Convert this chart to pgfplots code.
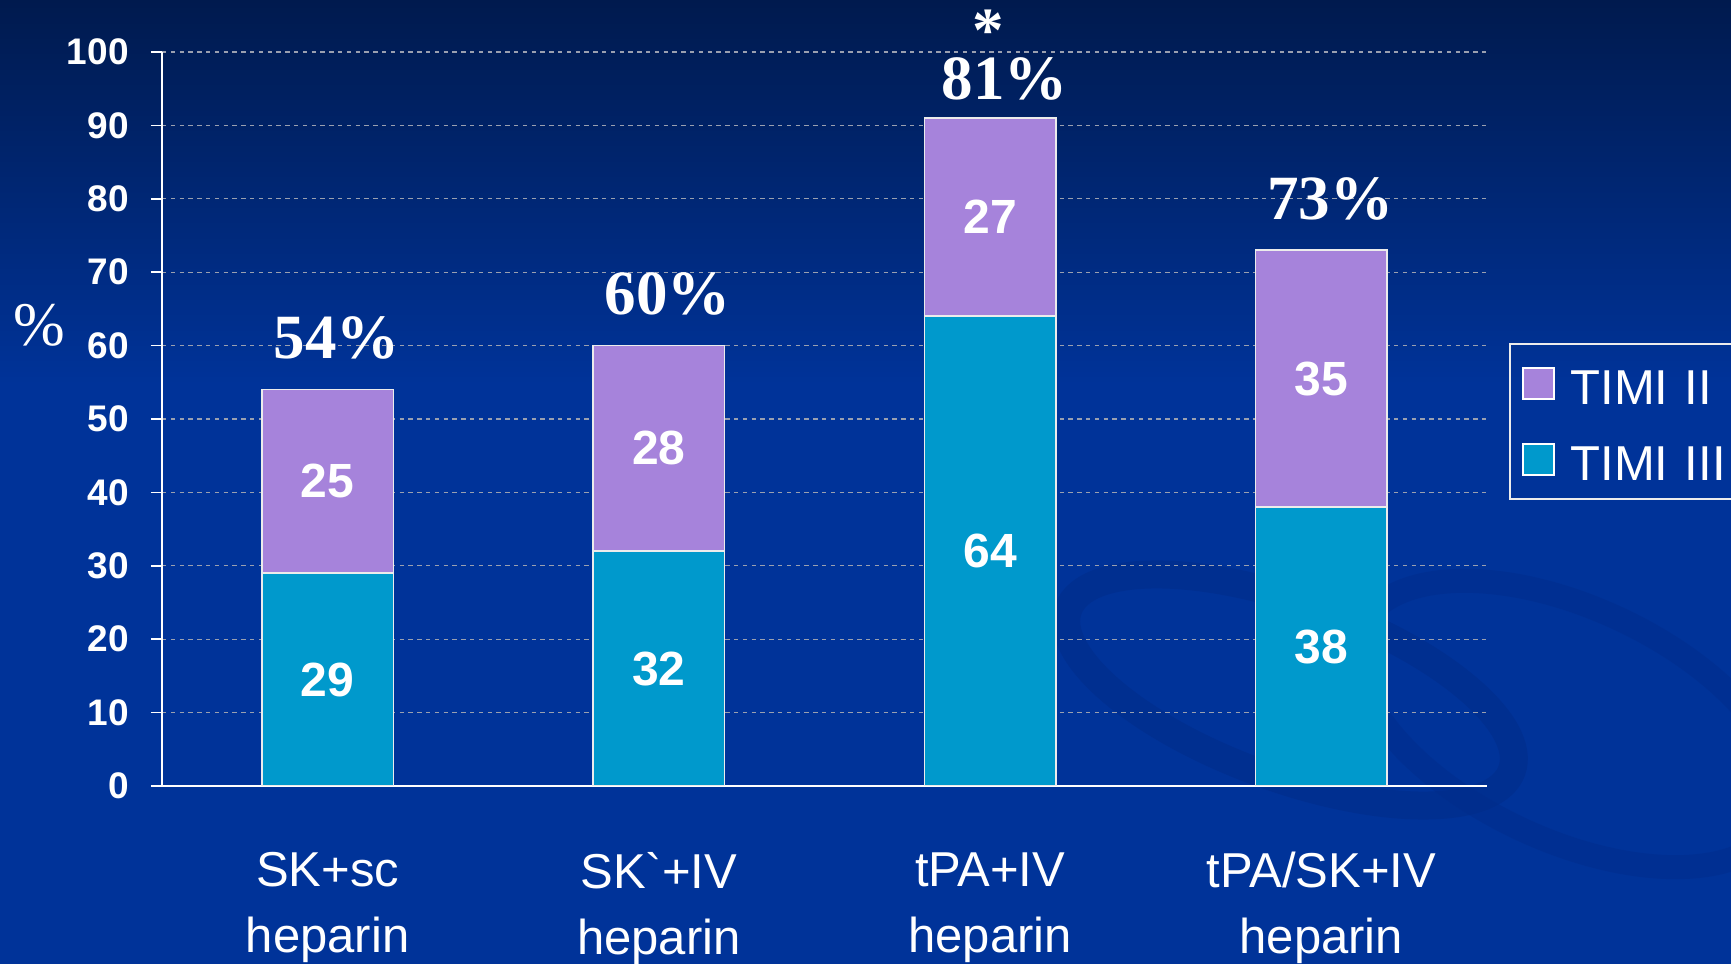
\documentclass[border=0pt]{standalone}
\usepackage{fontspec}
\setmainfont{Liberation Serif}
\newfontfamily\arial{Liberation Sans}
\usepackage{pgfplots}
\pgfplotsset{compat=1.18}
\definecolor{bgtop}{HTML}{001A4E}
\definecolor{bgbot}{HTML}{003399}
\definecolor{swirl}{HTML}{002C8A}
\definecolor{timithree}{HTML}{0099CC}
\definecolor{timitwo}{HTML}{A683DB}
\definecolor{gridgray}{HTML}{9AA0B0}
% label over the tPA bar, with the asterisk above it
\newcommand\starlab{\makebox[0pt][l]{\hspace{20.8pt}\raisebox{18pt}{*}}\hspace{5.5pt}\raisebox{-6pt}{81\%}}
\pgfplotsset{
  samebox/.style={at={(81pt,89pt)},anchor=south west,
    scale only axis,width=662.5pt,height=367pt,
    xmin=-0.5,xmax=3.5,ymin=0,ymax=100},
  seglabel/.style={point meta=explicit,nodes near coords,
    every node near coord/.style={font=\arial\bfseries\fontsize{24}{24}\selectfont,
      text=white,anchor=center}},
}

\begin{document}
\begin{tikzpicture}
\path[use as bounding box,clip] (0,0) rectangle (865.5pt,482pt);
\fill[bgbot] (0,0) rectangle (865.5pt,482pt);
\shade[top color=bgtop,bottom color=bgbot] (0,290pt) rectangle (865.5pt,482pt);
\draw[swirl,line width=14pt,opacity=.55,rotate around={-20:(645pt,137pt)}] (645pt,137pt) ellipse (118pt and 44pt);
\draw[swirl,line width=12pt,opacity=.45,rotate around={-25:(785pt,120pt)}] (785pt,120pt) ellipse (115pt and 58pt);

\begin{axis}[
  samebox,
  ybar stacked,bar width=0.397,
  axis x line*=bottom,axis y line*=left,
  axis line style={white,line width=1.2pt},
  tick align=outside,
  xtick=\empty,
  extra x ticks={0,1,2,3},
  extra x tick labels={SK+sc\\heparin,SK`+IV\\heparin,tPA+IV\\heparin,tPA/SK+IV\\heparin},
  extra x tick style={major tick length=0pt},
  minor xtick={-0.5,0.5,1.5,2.5,3.5},
  minor tick length=8pt,major tick length=5.5pt,
  minor tick style={gridgray,line width=0.8pt},
  ytick={0,10,...,100},
  ytick style={white,line width=0.8pt},
  ymajorgrids,
  grid style={gridgray,line width=0.6pt,dash pattern=on 2.2pt off 2.2pt},
  xticklabel style={font=\arial\fontsize{24.5}{33}\selectfont,text=white,align=center,anchor=north,inner sep=0pt,yshift=-33pt},
  yticklabel style={font=\arial\bfseries\fontsize{18.5}{20}\selectfont,text=white,anchor=east,inner sep=0pt,xshift=-11pt},
  /pgf/number format/assume math mode=true,
  ylabel={\%},
  every axis y label/.style={at={(axis description cs:-0.0928,0.627)},anchor=center,font=\fontsize{31}{31}\selectfont,text=white},
  legend style={at={(1.0166,0.6035)},anchor=north west,draw=white!85!gray,line width=1pt,fill=none,
    text=white,font=\arial\fontsize{24.5}{28}\selectfont,inner xsep=6pt,inner ysep=5.8pt,row sep=10pt,
    /tikz/every odd column/.append style={column sep=6pt},
    /tikz/every even column/.append style={text height=22.4pt,text width=90pt}},
  legend cell align=left,
  legend image code/.code={\draw[#1,draw=white,line width=0.8pt] (0pt,-7.75pt) rectangle (15.5pt,7.75pt);},
  reverse legend,
]
\addplot[fill=timithree,draw=white!85!gray,line width=0.8pt,seglabel]
  coordinates {(0,29)[29] (1,32)[32] (2,64)[64] (3,38)[38]};
\addplot[fill=timitwo,draw=white!85!gray,line width=0.8pt,seglabel]
  coordinates {(0,25)[25] (1,28)[28] (2,27)[27] (3,35)[35]};
\legend{TIMI III,TIMI II}
\end{axis}

% totals written above the bars
\begin{axis}[samebox,hide axis,clip=false]
\addplot[only marks,mark=none,point meta=explicit symbolic,nodes near coords,
  every node near coord/.style={font=\bfseries\fontsize{31.5}{31.5}\selectfont,text=white,anchor=base,xshift=4.5pt,yshift=15.5pt}]
  coordinates {(0,54)[54\%] (1,60)[60\%] (2,91)[\starlab] (3,73)[73\%]};
\end{axis}
\end{tikzpicture}
\end{document}
